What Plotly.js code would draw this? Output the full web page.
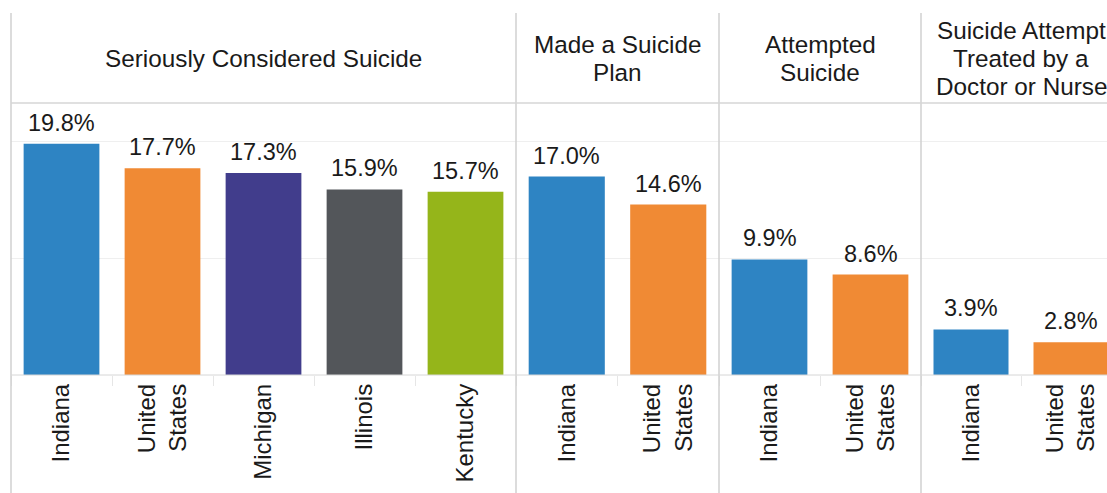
<!DOCTYPE html>
<html>
<head>
<meta charset="utf-8">
<script src="https://cdn.plot.ly/plotly-3.0.1.min.js"></script>
<style>
  html, body { margin: 0; padding: 0; background: #ffffff; }
  #chart { width: 1107px; height: 493px; }
</style>
</head>
<body>
<div id="chart"></div>
<script>
// Youth suicide indicators, share of high-school students (%)
const panelTitles = [
  'Seriously Considered Suicide',
  'Made a Suicide<br>Plan',
  'Attempted<br>Suicide',
  'Suicide Attempt<br>Treated by a<br>Doctor or Nurse'
];

const consideredPlaces = ['Indiana', 'United States', 'Michigan', 'Illinois', 'Kentucky'];
const consideredPct    = [19.8, 17.7, 17.3, 15.9, 15.7];

const comparedPlaces = ['Indiana', 'United States'];
const planPct        = [17.0, 14.6];
const attemptedPct   = [9.9, 8.6];
const treatedPct     = [3.9, 2.8];

const placeColors = {
  'Indiana':       '#2e84c3',
  'United States': '#f08a34',
  'Michigan':      '#413d8c',
  'Illinois':      '#53565a',
  'Kentucky':      '#95b51a'
};

// ---- page geometry (pixels) ----
const W = 1107, H = 493;
const plotLeft = 11, plotRight = W;
const plotTop = 103, plotBottom = 375, headerTop = 13;
const headerMid = 58.5, headerLineGap = 28;
const panelEdges = [11, 516, 719, 921, 1121];   // last panel runs past the page edge
const yMax = 23.3;

const plotW = plotRight - plotLeft, plotH = plotBottom - plotTop;
const px2x = p => (p - plotLeft) / plotW;
const px2y = p => (plotBottom - p) / plotH;

const panels = [
  { places: consideredPlaces, values: consideredPct },
  { places: comparedPlaces,   values: planPct },
  { places: comparedPlaces,   values: attemptedPct },
  { places: comparedPlaces,   values: treatedPct }
];

const fontFamily = 'Liberation Sans, Arial, Helvetica, sans-serif';
const textColor = '#1a1a1a';
const headerSize = 24.3, tickSize = 24, valueSize = 23.5;

const traces = [];
const layout = {
  width: W, height: H,
  margin: { l: plotLeft, r: W - plotRight, t: plotTop, b: H - plotBottom, pad: 0 },
  paper_bgcolor: '#ffffff',
  plot_bgcolor: '#ffffff',
  showlegend: false,
  bargap: 0.25,
  font: { family: fontFamily, color: textColor, size: tickSize },
  yaxis: {
    range: [0, yMax], dtick: 10, showticklabels: false, ticks: '',
    showgrid: true, gridcolor: '#efefef', gridwidth: 1,
    zeroline: false, showline: false, fixedrange: true
  },
  annotations: [],
  shapes: []
};

panels.forEach((pnl, i) => {
  const axName = i === 0 ? 'xaxis' : 'xaxis' + (i + 1);
  const axRef = i === 0 ? 'x' : 'x' + (i + 1);
  const left = panelEdges[i], right = panelEdges[i + 1];
  const n = pnl.places.length;
  const slot = (right - left) / n;
  const visRight = Math.min(right, plotRight);

  layout[axName] = {
    domain: [px2x(left), px2x(visRight)],
    anchor: 'y',
    type: 'category',
    range: [-0.5, -0.5 + (visRight - left) / slot],
    tickvals: pnl.places,
    ticktext: pnl.places.map(p => p.replace(' ', '<br>')),
    tickangle: -90,
    tickfont: { family: fontFamily, size: tickSize, color: textColor },
    ticks: 'outside', tickson: 'boundaries', ticklen: 10, tickcolor: '#e6e6e6', tickwidth: 1,
    ticklabelstandoff: 3,
    showgrid: false, zeroline: false, showline: false, fixedrange: true
  };

  traces.push({
    type: 'bar',
    x: pnl.places,
    y: pnl.values,
    xaxis: axRef, yaxis: 'y',
    marker: { color: pnl.places.map(p => placeColors[p]), line: { width: 0 } },
    hoverinfo: 'none'
  });

  // value labels above each bar
  pnl.places.forEach((p, k) => {
    layout.annotations.push({
      xref: axRef, yref: 'y',
      x: p, y: pnl.values[k],
      xanchor: 'center', yanchor: 'bottom', yshift: 6,
      text: pnl.values[k].toFixed(1) + '%', showarrow: false,
      font: { family: fontFamily, size: valueSize, color: textColor }
    });
  });

  // panel header, one annotation per line
  const lines = panelTitles[i].split('<br>');
  lines.forEach((line, k) => {
    const yPx = headerMid + (k - (lines.length - 1) / 2) * headerLineGap;
    layout.annotations.push({
      xref: 'paper', yref: 'paper',
      x: px2x((left + right) / 2), y: px2y(yPx),
      xanchor: 'center', yanchor: 'middle',
      text: line, showarrow: false,
      font: { family: fontFamily, size: headerSize, color: textColor }
    });
  });

  // panel separator
  layout.shapes.push({
    type: 'line', xref: 'paper', yref: 'paper', layer: 'above',
    x0: px2x(left), x1: px2x(left), y0: px2y(H), y1: px2y(headerTop),
    line: { color: '#d0d0d0', width: 1.5 }
  });
});

// header rule and baseline
layout.shapes.push({
  type: 'line', xref: 'paper', yref: 'paper', layer: 'above',
  x0: 0, x1: 1, y0: 1, y1: 1, line: { color: '#d6d6d6', width: 1.5 }
});
layout.shapes.push({
  type: 'line', xref: 'paper', yref: 'paper', layer: 'above',
  x0: 0, x1: 1, y0: 0, y1: 0, line: { color: '#d6d6d6', width: 1 }
});

Plotly.newPlot('chart', traces, layout, { staticPlot: true, displayModeBar: false });
</script>
</body>
</html>
